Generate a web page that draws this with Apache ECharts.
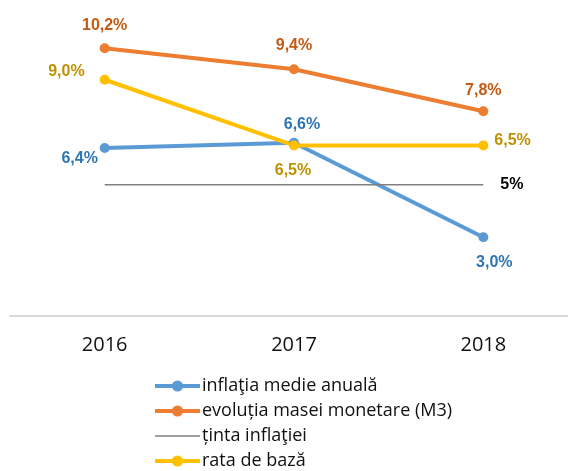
<!DOCTYPE html>
<html>
<head>
<meta charset="utf-8">
<script src="https://cdn.jsdelivr.net/npm/echarts@6/dist/echarts.min.js"></script>
<style>
  html, body { margin: 0; padding: 0; background: #fff; }
  #chart { width: 568px; height: 471px; }
</style>
</head>
<body>
<div id="chart"></div>
<script>
// date
var years = ['2016', '2017', '2018'];
var inflatie = [6.4, 6.6, 3.0];
var masaMonetara = [10.2, 9.4, 7.8];
var tinta = [5, 5, 5];
var rataBaza = [9.0, 6.5, 6.5];

var names = ['inflaţia medie anuală', 'evoluția masei monetare (M3)', 'ținta inflaţiei', 'rata de bază'];

function pct(v) {
  return v.toFixed(1).replace('.', ',') + '%';
}

// pozitia etichetelor pentru fiecare punct
function withLabels(values, positions, offsets) {
  return values.map(function (v, i) {
    return {
      value: v,
      label: { position: positions[i], offset: offsets[i] }
    };
  });
}

var chart = echarts.init(document.getElementById('chart'));

var labelFont = { fontFamily: 'Liberation Sans', fontWeight: 'bold', fontSize: 16 };

chart.setOption({
  animation: false,
  grid: { left: 10, top: 1, width: 568, bottom: 155, outerBoundsMode: 'none', containLabel: false },
  legend: {
    orient: 'vertical',
    left: 153,
    top: 377,
    height: 94,
    padding: 0,
    itemWidth: 45,
    itemHeight: 14,
    itemGap: 7,
    data: [
      { name: names[0], lineStyle: { width: 4 } },
      { name: names[1], lineStyle: { width: 4 } },
      { name: names[2], itemStyle: { opacity: 0 }, lineStyle: { width: 1.5 } },
      { name: names[3], lineStyle: { width: 4 } }
    ],
    textStyle: { fontFamily: 'Open Sans', fontSize: 18, color: '#111', padding: [0, 0, 0, -3] }
  },
  xAxis: {
    type: 'category',
    data: years,
    axisLine: { lineStyle: { color: '#d9d9d9', width: 2 } },
    axisTick: { show: false },
    axisLabel: { fontFamily: 'Open Sans', fontSize: 20, color: '#111', margin: 19 }
  },
  yAxis: {
    type: 'value',
    min: 0,
    max: 12,
    show: false,
    splitLine: { show: false }
  },
  series: [
    {
      name: names[0],
      type: 'line',
      data: withLabels(inflatie, ['bottom', 'top', 'bottom'], [[-25, -7], [8, 0], [11, 7]]),
      symbol: 'circle',
      symbolSize: 10,
      lineStyle: { color: '#5b9bd5', width: 4 },
      itemStyle: { color: '#5b9bd5' },
      label: Object.assign({ show: true, color: '#2e75b6', formatter: function (p) { return pct(p.value); } }, labelFont)
    },
    {
      name: names[1],
      type: 'line',
      data: withLabels(masaMonetara, ['top', 'top', 'top'], [[0, -5], [0, -6], [0, -3]]),
      symbol: 'circle',
      symbolSize: 10,
      lineStyle: { color: '#ed7d31', width: 4 },
      itemStyle: { color: '#ed7d31' },
      label: Object.assign({ show: true, color: '#c55a11', formatter: function (p) { return pct(p.value); } }, labelFont)
    },
    {
      name: names[2],
      type: 'line',
      data: tinta,
      symbol: 'none',
      lineStyle: { color: '#808080', width: 1.5 },
      itemStyle: { color: '#808080' },
      endLabel: Object.assign({ show: true, color: '#000', distance: 17, formatter: function (p) { return p.value + '%'; } }, labelFont)
    },
    {
      name: names[3],
      type: 'line',
      data: withLabels(rataBaza, ['left', 'bottom', 'right'], [[-10, -8], [-1, 7], [1, -5]]),
      symbol: 'circle',
      symbolSize: 10,
      lineStyle: { color: '#ffc000', width: 4 },
      itemStyle: { color: '#ffc000' },
      label: Object.assign({ show: true, color: '#bf9000', formatter: function (p) { return pct(p.value); } }, labelFont)
    }
  ]
});
</script>
</body>
</html>
